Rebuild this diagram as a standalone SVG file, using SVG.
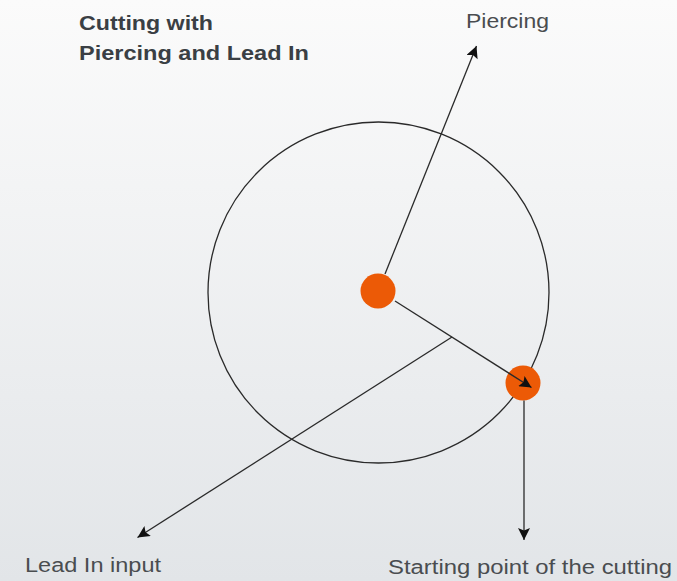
<svg xmlns="http://www.w3.org/2000/svg" width="677" height="581" viewBox="0 0 677 581">
<defs>
<linearGradient id="bg" x1="0" y1="0" x2="0" y2="1">
<stop offset="0" stop-color="#fbfbfb"/>
<stop offset="1" stop-color="#e2e5e8"/>
</linearGradient>
<marker id="ah" viewBox="0 0 10 10" refX="10" refY="5" markerWidth="14" markerHeight="12" markerUnits="userSpaceOnUse" orient="auto">
<path d="M0,0 L10,5 L0,10 L2,5 z" fill="#111"/>
</marker>
</defs>
<style>
.ln{stroke:#2a2a2a;stroke-width:1.3;fill:none}
.dot{fill:#ec5a06}
.lbl{font-family:"Liberation Sans",Arial,sans-serif;font-size:20px;fill:#4a4d50}
.ttl{font-family:"Liberation Sans",Arial,sans-serif;font-size:21px;font-weight:bold;fill:#3a3f44}
</style>
<rect width="677" height="581" fill="url(#bg)"/>
<g id="title">
<text class="ttl" x="79" y="30" textLength="134" lengthAdjust="spacingAndGlyphs">Cutting with</text>
<text class="ttl" x="79" y="60" textLength="230" lengthAdjust="spacingAndGlyphs">Piercing and Lead In</text>
</g>
<g id="circle"><circle cx="378.5" cy="292.5" r="170.5" class="ln"/></g>
<g id="center"><circle cx="378" cy="291" r="17.5" class="dot"/></g>
<g id="start"><circle cx="523" cy="383" r="17.5" class="dot"/></g>
<g id="connectors">
<line class="ln" x1="385" y1="274" x2="476.5" y2="46" marker-end="url(#ah)"/>
<line class="ln" x1="395" y1="301" x2="531.5" y2="387.5" marker-end="url(#ah)"/>
<line class="ln" x1="452" y1="337" x2="137.5" y2="537.5" marker-end="url(#ah)"/>
<line class="ln" x1="524" y1="400.5" x2="524" y2="540" marker-end="url(#ah)"/>
</g>
<g id="piercing"><text class="lbl" x="466" y="28" textLength="83" lengthAdjust="spacingAndGlyphs">Piercing</text></g>
<g id="leadin"><text class="lbl" x="25" y="572" textLength="136" lengthAdjust="spacingAndGlyphs">Lead In input</text></g>
<g id="startlbl"><text class="lbl" x="388" y="574" textLength="284" lengthAdjust="spacingAndGlyphs">Starting point of the cutting</text></g>
</svg>
